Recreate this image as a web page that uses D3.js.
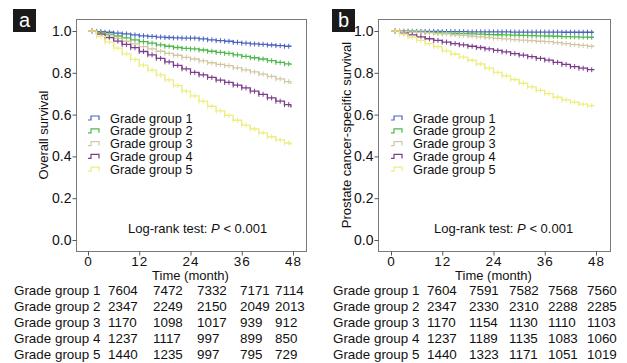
<!DOCTYPE html>
<html>
<head>
<meta charset="utf-8">
<script src="https://cdn.jsdelivr.net/npm/d3@7"></script>
<style>
  body { margin: 0; background: #fff; }
  svg { display: block; font-family: "Liberation Sans", Arial, sans-serif; }
</style>
</head>
<body>
<svg id="chart" width="627" height="363"></svg>
<script>
// step times (months) and survival
let stepTimes = [0, 2, 4, 6, 8, 10, 12, 14, 16, 18, 20, 22, 24, 26, 28, 30, 32, 34, 36, 38, 40, 42, 44, 46, 47.5];
let censorTimes = [1, 2, 3, 4, 5, 6, 7, 8, 9, 10, 11, 12, 13, 14, 15, 16, 17, 18, 19, 20, 21, 22, 23, 24,
                   25, 26, 27, 28, 29, 30, 31, 32, 33, 34, 35, 36, 37, 38, 39, 40, 41, 42, 43, 44, 45, 46, 47];

let groups = ['Grade group 1', 'Grade group 2', 'Grade group 3', 'Grade group 4', 'Grade group 5'];
let colors = ['#4a62c0', '#4cb84c', '#d2c8a6', '#7d3c8c', '#eeed80'];

// panel a - overall survival
let osG1 = [1, 0.997, 0.994, 0.99, 0.986, 0.981, 0.977, 0.974, 0.971, 0.969, 0.967, 0.966, 0.966, 0.962, 0.958, 0.954, 0.951, 0.946, 0.942, 0.938, 0.936, 0.933, 0.93, 0.927, 0.924];
let osG2 = [1, 0.993, 0.985, 0.976, 0.967, 0.958, 0.949, 0.942, 0.934, 0.927, 0.921, 0.917, 0.914, 0.909, 0.903, 0.898, 0.893, 0.886, 0.879, 0.872, 0.866, 0.858, 0.85, 0.843, 0.837];
let osG3 = [1, 0.988, 0.977, 0.965, 0.951, 0.938, 0.925, 0.914, 0.903, 0.893, 0.884, 0.874, 0.866, 0.857, 0.848, 0.84, 0.834, 0.824, 0.814, 0.804, 0.794, 0.783, 0.771, 0.758, 0.746];
let osG4 = [1, 0.985, 0.968, 0.952, 0.936, 0.92, 0.902, 0.886, 0.869, 0.852, 0.836, 0.819, 0.802, 0.79, 0.778, 0.765, 0.754, 0.741, 0.728, 0.712, 0.697, 0.68, 0.664, 0.648, 0.634];
let osG5 = [1, 0.975, 0.947, 0.918, 0.891, 0.864, 0.837, 0.813, 0.79, 0.766, 0.739, 0.712, 0.69, 0.664, 0.64, 0.618, 0.596, 0.573, 0.55, 0.531, 0.513, 0.494, 0.479, 0.464, 0.455];

// panel b - prostate cancer-specific survival
let cssG1 = [1, 0.999, 0.999, 0.998, 0.998, 0.998, 0.997, 0.997, 0.997, 0.996, 0.996, 0.996, 0.996, 0.996, 0.995, 0.995, 0.995, 0.995, 0.995, 0.995, 0.994, 0.994, 0.994, 0.994, 0.994];
let cssG2 = [1, 0.998, 0.997, 0.995, 0.993, 0.992, 0.99, 0.989, 0.987, 0.986, 0.985, 0.983, 0.982, 0.981, 0.98, 0.979, 0.978, 0.977, 0.976, 0.975, 0.973, 0.972, 0.971, 0.97, 0.97];
let cssG3 = [1, 0.998, 0.995, 0.993, 0.991, 0.988, 0.986, 0.982, 0.979, 0.975, 0.972, 0.968, 0.965, 0.962, 0.959, 0.956, 0.954, 0.951, 0.949, 0.944, 0.94, 0.935, 0.931, 0.927, 0.925];
let cssG4 = [1, 0.99, 0.981, 0.972, 0.963, 0.955, 0.947, 0.94, 0.934, 0.927, 0.921, 0.914, 0.907, 0.9, 0.892, 0.885, 0.877, 0.869, 0.861, 0.85, 0.84, 0.83, 0.822, 0.815, 0.812];
let cssG5 = [1, 0.985, 0.97, 0.955, 0.94, 0.925, 0.905, 0.89, 0.875, 0.86, 0.842, 0.822, 0.802, 0.785, 0.768, 0.75, 0.733, 0.716, 0.7, 0.683, 0.67, 0.66, 0.65, 0.643, 0.641];

// numbers at risk
let osRisk = [
    [7604, 7472, 7332, 7171, 7114],
    [2347, 2249, 2150, 2049, 2013],
    [1170, 1098, 1017, 939, 912],
    [1237, 1117, 997, 899, 850],
    [1440, 1235, 997, 795, 729]
];
let cssRisk = [
    [7604, 7591, 7582, 7568, 7560],
    [2347, 2330, 2310, 2288, 2285],
    [1170, 1154, 1130, 1110, 1103],
    [1237, 1189, 1135, 1083, 1060],
    [1440, 1323, 1171, 1051, 1019]
];

let xTicks = [0, 12, 24, 36, 48];
let yTicks = [0, 0.2, 0.4, 0.6, 0.8, 1.0];

let svg = d3.select('#chart');

// value of a step curve at time t
function stepValue(vals, t){
    let v = vals[0];
    for(let i = 0; i < stepTimes.length; i++){
        if(stepTimes[i] <= t){ v = vals[i]; }
    }
    return v;
}

function drawPanel(cfg){
    let g = svg.append('g');

    let xScale = d3.scaleLinear().domain([0, 48]).range([cfg.x0, cfg.x0 + 205]);
    let yScale = d3.scaleLinear().domain([0, 1]).range([240, 31]);

    // frame
    g.append('rect')
        .attr('x', cfg.frameX + 0.5).attr('y', 19.5)
        .attr('width', cfg.frameW).attr('height', 232)
        .attr('fill', 'none').attr('stroke', '#7a7a7a').attr('stroke-width', 1);

    // y axis
    let yAxis = d3.axisLeft(yScale).tickValues(yTicks).tickSize(4).tickPadding(1)
        .tickFormat(d3.format('.1f'));
    let ya = g.append('g')
        .attr('transform', 'translate(' + (cfg.frameX + 0.5) + ',0)')
        .call(yAxis);
    ya.select('.domain').remove();
    ya.selectAll('line').attr('stroke', '#555');
    ya.selectAll('text').attr('font-size', '14px').attr('fill', '#111')
        .attr('font-family', '"Liberation Sans", Arial, sans-serif');

    // x axis
    let xAxis = d3.axisBottom(xScale).tickValues(xTicks).tickSize(4).tickPadding(1);
    let xa = g.append('g')
        .attr('transform', 'translate(0,251.5)')
        .call(xAxis);
    xa.select('.domain').remove();
    xa.selectAll('line').attr('stroke', '#555');
    xa.selectAll('text').attr('font-size', '13.5px').attr('fill', '#111')
        .attr('letter-spacing', '1px')
        .attr('font-family', '"Liberation Sans", Arial, sans-serif');

    // curves
    let line = d3.line()
        .x(function(d){ return xScale(d.t); })
        .y(function(d){ return yScale(d.v); })
        .curve(d3.curveStepAfter);

    cfg.series.forEach(function(vals, i){
        let pts = stepTimes.map(function(t, j){ return {t: t, v: vals[j]}; });
        g.append('path')
            .datum(pts)
            .attr('d', line)
            .attr('fill', 'none')
            .attr('stroke', colors[i])
            .attr('stroke-width', 1.3);

        g.selectAll('.cens' + i)
            .data(censorTimes)
            .enter()
            .append('line')
            .attr('x1', function(t){ return xScale(t); })
            .attr('x2', function(t){ return xScale(t); })
            .attr('y1', function(t){ return yScale(stepValue(vals, t)) - 2.5; })
            .attr('y2', function(t){ return yScale(stepValue(vals, t)) + 2.5; })
            .attr('stroke', colors[i])
            .attr('stroke-width', 1);
    });

    // legend
    groups.forEach(function(name, i){
        let ly = 118 + i * 12.8;
        let lx = cfg.legendX;
        g.append('path')
            .attr('d', 'M' + lx + ',' + (ly + 2) + 'H' + (lx + 3) + 'V' + (ly - 2) + 'H' + (lx + 11) + 'V' + (ly + 2))
            .attr('fill', 'none')
            .attr('stroke', colors[i])
            .attr('stroke-width', 1.2);
        g.append('text')
            .attr('x', lx + 22).attr('y', ly + 4.5)
            .attr('font-size', '12.8px').attr('fill', '#111')
            .text(name);
    });

    // log-rank
    let lr = g.append('text')
        .attr('x', cfg.logX).attr('y', 232.5)
        .attr('font-size', '13px').attr('fill', '#111');
    lr.append('tspan').text('Log-rank test: ');
    lr.append('tspan').attr('font-style', 'italic').text('P');
    lr.append('tspan').text(' < 0.001');

    // y label
    g.append('text')
        .attr('transform', 'translate(' + cfg.yLabelX + ',135) rotate(-90)')
        .attr('text-anchor', 'middle')
        .attr('font-size', '13px').attr('fill', '#111')
        .text(cfg.yLabel);

    // x label
    g.append('text')
        .attr('x', cfg.x0 + 102.5).attr('y', 280)
        .attr('text-anchor', 'middle')
        .attr('font-size', '13px').attr('fill', '#111')
        .text('Time (month)');

    // panel letter
    g.append('rect')
        .attr('x', cfg.letterX).attr('y', 9)
        .attr('width', 23).attr('height', 23)
        .attr('fill', '#1a1a1a');
    g.append('text')
        .attr('x', cfg.letterX + 11.5).attr('y', 27)
        .attr('text-anchor', 'middle')
        .attr('font-size', '20px').attr('fill', '#fff')
        .text(cfg.letter);

    // numbers at risk table
    cfg.risk.forEach(function(row, i){
        let ty = 294.5 + i * 16;
        g.append('text')
            .attr('x', cfg.tableX).attr('y', ty)
            .attr('font-size', '13.4px').attr('fill', '#111')
            .text(groups[i]);
        row.forEach(function(n, j){
            g.append('text')
                .attr('x', cfg.colX[j]).attr('y', ty)
                .attr('font-size', '13.4px').attr('fill', '#111')
                .text(n);
        });
    });
}

drawPanel({
    x0: 88, frameX: 76, frameW: 230, series: [osG1, osG2, osG3, osG4, osG5],
    legendX: 88, logX: 128, yLabelX: 48, yLabel: 'Overall survival',
    letter: 'a', letterX: 13, risk: osRisk, tableX: 14, colX: [108, 153, 197, 240, 275]
});

drawPanel({
    x0: 391, frameX: 378, frameW: 232, series: [cssG1, cssG2, cssG3, cssG4, cssG5],
    legendX: 391, logX: 434, yLabelX: 351, yLabel: 'Prostate cancer-specific survival',
    letter: 'b', letterX: 332, risk: cssRisk, tableX: 333, colX: [427, 469, 509, 548, 587]
});
</script>
</body>
</html>
